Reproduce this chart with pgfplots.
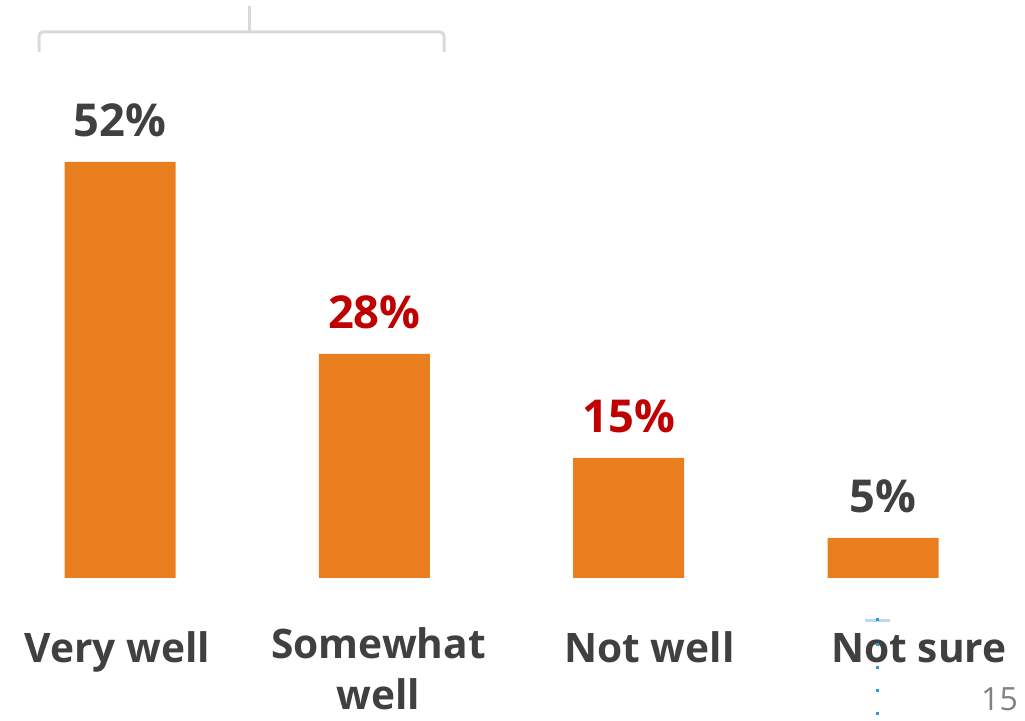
\documentclass[border=0pt]{standalone}
\usepackage{fontspec}
\setmainfont{Open Sans}
\usepackage{pgfplots}
\pgfplotsset{compat=1.18}
\definecolor{barorange}{HTML}{E97E1F}
\definecolor{darktxt}{HTML}{404040}
\definecolor{redtxt}{HTML}{C00000}
\definecolor{brgray}{HTML}{D9D9D9}
\definecolor{ltblue}{HTML}{BDD7EE}
\definecolor{dotblue}{HTML}{2E9BE0}
\begin{document}
\begin{tikzpicture}
\path[use as bounding box] (0,0) rectangle (768.75pt,540.75pt);
\begin{axis}[
  at={(0,107.25pt)}, anchor=south west,
  scale only axis, width=768.75pt, height=433.5pt,
  xmin=-0.4718, xmax=3.558, ymin=0, ymax=72.25,
  axis lines=none, clip=false,
  ybar, bar width=83.25pt, bar shift=0pt,
  /pgf/number format/assume math mode=true,
  nodes near coords={\pgfmathprintnumber{\pgfplotspointmeta}\%},
  nodes near coords style={anchor=base, yshift=18.75pt, font=\fontsize{34}{38}\selectfont\bfseries, inner sep=0pt},
]
\addplot[fill=barorange, draw=none, nodes near coords style={text=darktxt}] coordinates {(0,52) (3,5)};
\addplot[fill=barorange, draw=none, nodes near coords style={text=redtxt}] coordinates {(1,28) (2,15)};
\end{axis}
\begin{scope}[x=0.75pt,y=-0.75pt,shift={(0,540.75pt)}]
  \draw[brgray, line width=2.25pt, rounded corners=3pt] (39,52) -- (39,32) -- (444,32) -- (444,52);
  \draw[brgray, line width=2.25pt] (249,6) -- (249,32);
  \begin{scope}[font=\fontsize{30.5}{36}\selectfont\bfseries, text=darktxt, inner sep=0pt]
    \node[anchor=base] at (117.5,663) {Very well};
    \node[anchor=base] at (378.5,659) {Somewhat};
    \node[anchor=base] at (378.5,710) {well};
    \node[anchor=base] at (649.5,663) {Not well};
    \node[anchor=base] at (919,663) {Not sure};
  \end{scope}
  \fill[ltblue] (865,619) rectangle (890,622);
  \foreach \yy in {620,645,668,691,714} \fill[dotblue] (875.5,\yy-1.5) rectangle (879,\yy+1.5);
  \node[anchor=base, inner sep=0pt, text=gray, font=\fontsize{24}{28}\selectfont] at (999.5,711) {15};
\end{scope}
\end{tikzpicture}
\end{document}
